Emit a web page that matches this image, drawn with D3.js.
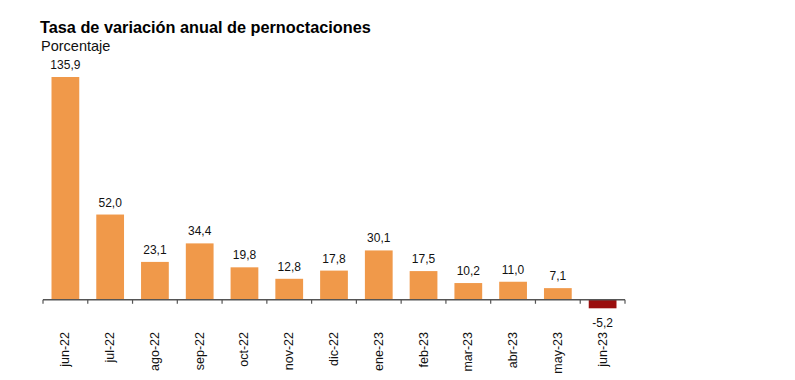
<!DOCTYPE html>
<html>
<head>
<meta charset="utf-8">
<script src="https://cdn.jsdelivr.net/npm/d3@7"></script>
<style>
  body { margin: 0; background: #fff; }
  #viz { width: 795px; height: 380px; }
  text { font-family: "Liberation Sans", Arial, sans-serif; }
</style>
</head>
<body>
<div id="viz"></div>
<script>
// months shown on the x axis
var months = ["jun-22", "jul-22", "ago-22", "sep-22", "oct-22", "nov-22", "dic-22",
              "ene-23", "feb-23", "mar-23", "abr-23", "may-23", "jun-23"];
// annual change in overnight stays (%)
var values = [135.9, 52.0, 23.1, 34.4, 19.8, 12.8, 17.8, 30.1, 17.5, 10.2, 11.0, 7.1, -5.2];

var margin = {top: 77, right: 170, bottom: 80, left: 43};
var width = 795, height = 380;

var svg = d3.select("#viz").append("svg")
    .attr("width", width)
    .attr("height", height);

svg.append("text")
    .attr("x", 40).attr("y", 33)
    .attr("font-size", "16.3px")
    .attr("font-weight", "bold")
    .attr("fill", "#000")
    .text("Tasa de variación anual de pernoctaciones");

svg.append("text")
    .attr("x", 41).attr("y", 51)
    .attr("font-size", "14.5px")
    .attr("fill", "#111")
    .text("Porcentaje");

var x = d3.scaleBand()
    .domain(months)
    .range([margin.left, 625])
    .paddingInner(0.38)
    .paddingOuter(0.19);

var y = d3.scaleLinear()
    .domain([-5.2, 135.9])
    .range([308.3, margin.top]);

var g = svg.append("g");

g.selectAll(".bar")
    .data(values)
    .enter().append("rect")
    .attr("class", "bar")
    .attr("x", (d, i) => x(months[i]))
    .attr("width", x.bandwidth())
    .attr("y", d => y(Math.max(0, d)))
    .attr("height", d => Math.abs(y(d) - y(0)))
    .attr("fill", d => d < 0 ? "#9a0e0e" : "#f0994a");

g.selectAll(".val")
    .data(values)
    .enter().append("text")
    .attr("class", "val")
    .attr("x", (d, i) => x(months[i]) + x.bandwidth() / 2)
    .attr("y", d => d < 0 ? y(d) + 19 : y(d) - 8)
    .attr("text-anchor", "middle")
    .attr("font-size", "12px")
    .attr("fill", "#111")
    .text(d => d3.format(".1f")(d).replace(".", ",").replace("−", "-"));

// axis line at zero with ticks at category boundaries
var zero = y(0);
var bounds = d3.range(months.length + 1).map(i => margin.left + i * (625 - margin.left) / months.length);

g.append("line")
    .attr("x1", margin.left).attr("x2", 625)
    .attr("y1", zero).attr("y2", zero)
    .attr("stroke", "#555")
    .attr("stroke-width", 1.5);

g.selectAll(".tick")
    .data(bounds)
    .enter().append("line")
    .attr("class", "tick")
    .attr("x1", d => d).attr("x2", d => d)
    .attr("y1", zero).attr("y2", zero + 4)
    .attr("stroke", "#555")
    .attr("stroke-width", 1.2);

g.selectAll(".lab")
    .data(months)
    .enter().append("text")
    .attr("class", "lab")
    .attr("transform", d => "translate(" + (x(d) + x.bandwidth() / 2 + 4) + ",332) rotate(-90)")
    .attr("text-anchor", "end")
    .attr("font-size", "12.5px")
    .attr("fill", "#111")
    .text(d => d);
</script>
</body>
</html>
